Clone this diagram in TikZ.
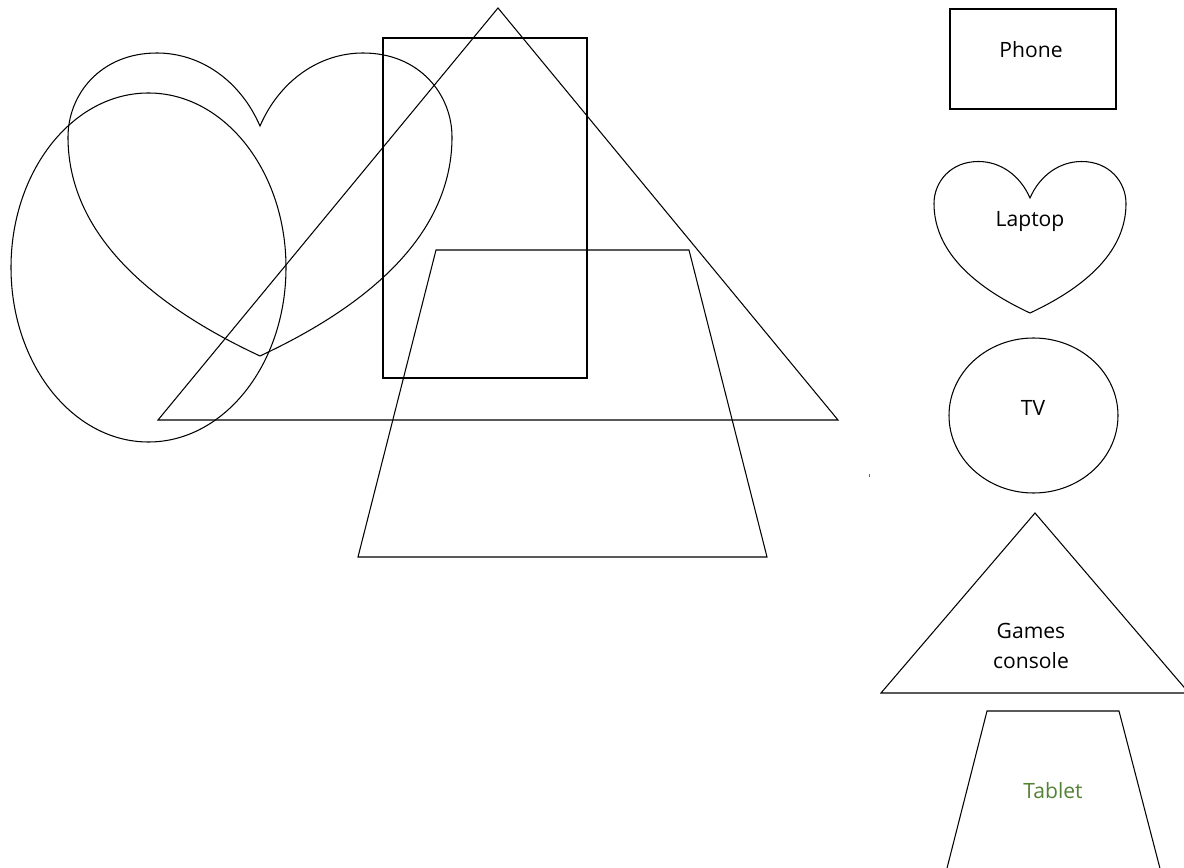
\documentclass[tikz,border=0pt]{standalone}
\usepackage{fontspec}
\setmainfont{Open Sans}
\usetikzlibrary{shapes.geometric}
\definecolor{tabletgreen}{RGB}{84,130,53}
\tikzset{
  shp/.style={draw=black, line width=0.6pt, line join=miter},
  lbl/.style={font=\fontsize{12}{17}\selectfont, inner sep=0pt, align=center},
  pics/heartshape/.style={code={
    \draw[shp] (0,0) .. controls (-20,-46) and (-60,-73) .. (-103,-73)
      .. controls (-160,-73) and (-192,-31) .. (-192,11)
      .. controls (-192,80) and (-150,160) .. (0,230)
      .. controls (150,160) and (192,80) .. (192,11)
      .. controls (192,-31) and (160,-73) .. (103,-73)
      .. controls (60,-73) and (20,-46) .. (0,0) -- cycle;
  }}
}
\begin{document}
\begin{tikzpicture}[x=0.02cm, y=-0.02cm]
\useasboundingbox (0,0) rectangle (1184,868);
\clip (0,0) rectangle (1184,868);
% left overlapping group
\draw[shp] (148.5,267.5) ellipse [x radius=137.5, y radius=174.5];
\pic at (260,126) {heartshape};
\coordinate (tA) at (498,8);
\coordinate (tB) at (158,420);
\coordinate (tC) at (838,420);
\draw[shp] (tA) -- (tB) -- (tC) -- cycle;
\coordinate (r1) at (383,38);
\coordinate (r2) at (587,378);
\draw[shp] (r1) rectangle (r2);
\coordinate (q1) at (436,250);
\coordinate (q2) at (689,250);
\coordinate (q3) at (767,557);
\coordinate (q4) at (358,557);
\draw[shp] (q1) -- (q2) -- (q3) -- (q4) -- cycle;
\fill[black!60] (868.5,473.5) rectangle (869.8,476.5);
% right legend column
\coordinate (p1) at (950,9);
\coordinate (p2) at (1116,109);
\draw[shp] (p1) rectangle (p2);
\node[lbl] (phone) at (1031,50) {Phone};
\pic[scale=0.5] at (1030,198) {heartshape};
\node[lbl] (laptop) at (1030,222) {Laptop};
\draw[shp] (1033.5,415.5) ellipse [x radius=84.5, y radius=77.5];
\node[lbl] (tv) at (1033,408) {TV};
\coordinate (gA) at (1035,513);
\coordinate (gB) at (881,693);
\coordinate (gC) at (1189,693);
\draw[shp] (gA) -- (gB) -- (gC) -- cycle;
\node[lbl] (games) at (1031,646) {Games\\console};
\coordinate (s1) at (987,711);
\coordinate (s2) at (1119,711);
\coordinate (s3) at (1163,880);
\coordinate (s4) at (944,880);
\draw[shp] (s4) -- (s1) -- (s2) -- (s3);
\node[lbl, text=tabletgreen] (tablet) at (1053,791) {Tablet};
\end{tikzpicture}
\end{document}
